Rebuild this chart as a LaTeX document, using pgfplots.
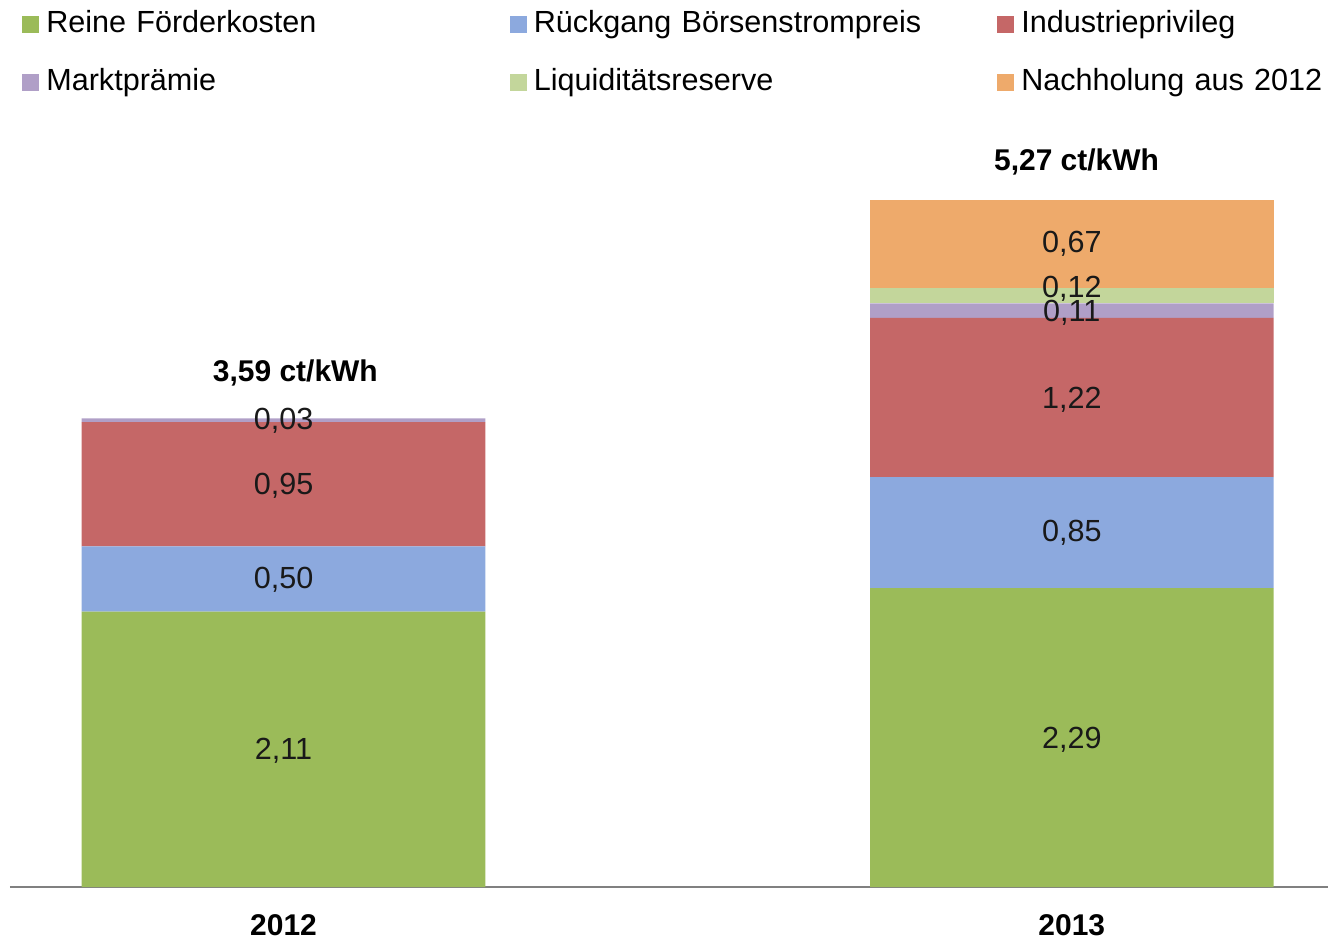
\documentclass[border=0pt]{standalone}
\usepackage{fontspec}
\setmainfont{Liberation Sans}
\usepackage{pgfplots}
\pgfplotsset{compat=1.18}

\definecolor{cGreen}{HTML}{9BBB59}
\definecolor{cBlue}{HTML}{8CA9DE}
\definecolor{cRed}{HTML}{C56767}
\definecolor{cPurple}{HTML}{B09FC7}
\definecolor{cLight}{HTML}{C3D69B}
\definecolor{cOrange}{HTML}{EEAA6B}

\pgfplotsset{
  frame/.style={
    scale only axis, width=659.5pt, height=444pt,
    xmin=-0.347, xmax=1.3245, ymin=0, ymax=6.794,
  }
}

\begin{document}
\begin{tikzpicture}[font=\fontsize{15.3}{18}\selectfont]
\begin{axis}[
  frame,
  ybar stacked, bar width=0.512,
  axis x line=bottom, axis y line=none,
  axis line style={-, draw=black!50, line width=1.4pt},
  xtick={0,1}, xticklabels={\textbf{2012},\textbf{2013}},
  major tick length=0pt, ytick=\empty,
  xticklabel style={inner sep=0pt, text height=10.8pt, font=\fontsize{15}{18}\selectfont},
  xticklabel shift=13pt,
  legend columns=3, legend cell align=left,
  legend image code/.code={\fill[#1] (0pt,-4.25pt) rectangle (8.5pt,4.25pt);},
  legend style={at={(rel axis cs:0,1)}, anchor=north west, xshift=6pt, yshift=-4pt,
    draw=none, fill=none, inner sep=0pt, row sep=13pt, column sep=0pt,
    nodes={text width=150pt, align=left, text height=11pt, text depth=3pt, inner sep=1pt},
    /tikz/every odd column/.append style={column sep=2.5pt},
    /tikz/every even column/.append style={column sep=81pt}},
]
\addplot[fill=cGreen, draw=none] coordinates {(0,2.11) (1,2.29)};
\addplot[fill=cBlue, draw=none] coordinates {(0,0.50) (1,0.85)};
\addplot[fill=cRed, draw=none] coordinates {(0,0.95) (1,1.22)};
\addplot[fill=cPurple, draw=none] coordinates {(0,0.03) (1,0.11)};
\addplot[fill=cLight, draw=none] coordinates {(0,0) (1,0.12)};
\addplot[fill=cOrange, draw=none] coordinates {(0,0) (1,0.67)};
\legend{Reine Förderkosten, \mbox{Rückgang Börsenstrompreis}, Industrieprivileg,
  Marktprämie, Liquiditätsreserve, \mbox{Nachholung aus 2012}}
\end{axis}

% labels, same frame
\begin{axis}[frame, hide axis, clip=false]
\addplot[draw=none, mark=none, nodes near coords, point meta=explicit symbolic,
  every node near coord/.style={anchor=center, text=black!90}]
  table[meta=label] {
x     y    label
0     1.04 2,11
0     2.35 0,50
0     3.07 0,95
0     3.57 0,03
1     1.13 2,29
1     2.71 0,85
1     3.73 1,22
1     4.40 0,11
1     4.58 0,12
1     4.93 0,67
};
\addplot[draw=none, mark=none, nodes near coords, point meta=explicit symbolic,
  every node near coord/.style={anchor=center, font=\fontsize{15}{18}\selectfont\bfseries}]
  table[meta=label] {
x     y    label
0.015 3.94 {3,59 ct/kWh}
1.006 5.55 {5,27 ct/kWh}
};
\end{axis}
\path (-5pt,-26pt) rectangle (659.5pt,444pt);
\end{tikzpicture}
\end{document}
